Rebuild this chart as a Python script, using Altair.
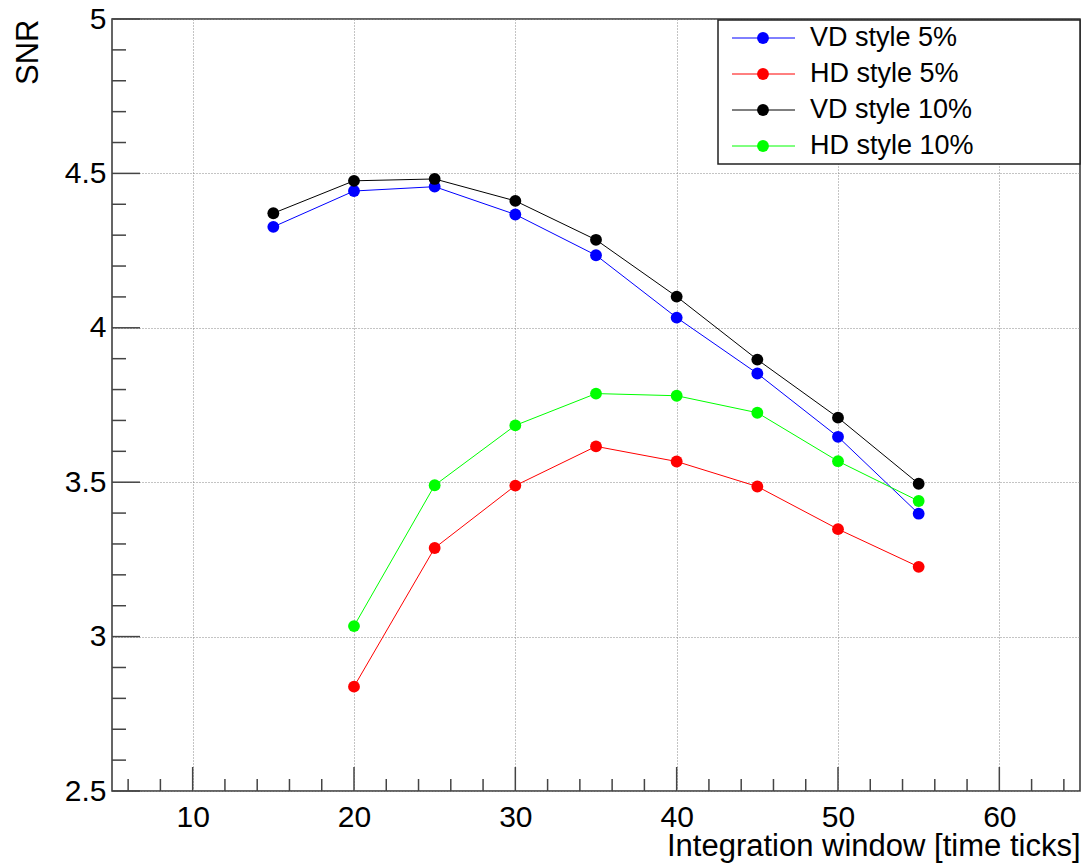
import altair as alt
import pandas as pd

# ---- data ----
series_names = ["VD style 5%", "HD style 5%", "VD style 10%", "HD style 10%"]
series_colors = ["#0000ff", "#ff0000", "#000000", "#00ff00"]

x_vd = [15, 20, 25, 30, 35, 40, 45, 50, 55]
x_hd = [20, 25, 30, 35, 40, 45, 50, 55]

vd5 = [4.327, 4.443, 4.457, 4.367, 4.235, 4.033, 3.852, 3.647, 3.398]
hd5 = [2.838, 3.287, 3.489, 3.616, 3.567, 3.486, 3.348, 3.226]
vd10 = [4.371, 4.476, 4.482, 4.411, 4.285, 4.101, 3.897, 3.709, 3.495]
hd10 = [3.034, 3.490, 3.684, 3.787, 3.780, 3.725, 3.568, 3.439]

x_major = [10, 20, 30, 40, 50, 60]
x_minor = [6, 8, 12, 14, 16, 18, 22, 24, 26, 28, 32, 34, 36, 38,
           42, 44, 46, 48, 52, 54, 56, 58, 62, 64]
y_major = [2.5, 3.0, 3.5, 4.0, 4.5, 5.0]
y_minor = [2.6, 2.7, 2.8, 2.9, 3.1, 3.2, 3.3, 3.4, 3.6, 3.7, 3.8, 3.9,
           4.1, 4.2, 4.3, 4.4, 4.6, 4.7, 4.8, 4.9]

# ---- build tables ----
rows = []
for name, xs, ys in [(series_names[0], x_vd, vd5), (series_names[1], x_hd, hd5),
                     (series_names[2], x_vd, vd10), (series_names[3], x_hd, hd10)]:
    for a, b in zip(xs, ys):
        rows.append({"x": a, "snr": b, "series": name})
df = pd.DataFrame(rows)

W, H = 968, 772
FONT = "Liberation Sans"

xscale = alt.Scale(domain=[5, 65], nice=False, zero=False)
yscale = alt.Scale(domain=[2.5, 5], nice=False, zero=False)
cscale = alt.Scale(domain=series_names, range=series_colors)

XTITLE = "Integration window [time ticks]"
YTITLE = "SNR"

xaxis = alt.Axis(values=x_major, grid=True, gridDash=[1, 2], gridColor="#888",
                 gridWidth=1, ticks=False, domain=False, labelFontSize=30,
                 labelFont=FONT, labelColor="#000", labelPadding=11,
                 title=XTITLE, titleFont=FONT,
                 titleFontSize=31, titleFontWeight="normal", titleColor="#000",
                 titleAlign="right", titleAnchor="end", titleX=W, titleY=64,
                 titleBaseline="alphabetic")
yaxis = alt.Axis(values=y_major, format="~g", grid=True, gridDash=[1, 2],
                 gridColor="#888", gridWidth=1, ticks=False, domain=False,
                 labelFontSize=30, labelFont=FONT, labelColor="#000",
                 labelPadding=6, title=YTITLE, titleFont=FONT, titleFontSize=31,
                 titleFontWeight="normal", titleColor="#000", titleAngle=-90,
                 titleAlign="right", titleBaseline="middle", titleX=-84,
                 titleY=0)

base = alt.Chart(df)
lines = base.mark_line(strokeWidth=1).encode(
    x=alt.X("x:Q", scale=xscale, axis=xaxis, title=XTITLE),
    y=alt.Y("snr:Q", scale=yscale, axis=yaxis, title=YTITLE),
    color=alt.Color("series:N", scale=cscale, legend=None),
    detail="series:N",
)
points = base.mark_circle(size=140, opacity=1).encode(
    x=alt.X("x:Q", scale=xscale, axis=xaxis, title=XTITLE),
    y=alt.Y("snr:Q", scale=yscale, axis=yaxis, title=YTITLE),
    color=alt.Color("series:N", scale=cscale, legend=None),
)

# inward-pointing ticks (ROOT style)
tick_col = "#444"
xmaj = alt.Chart(pd.DataFrame({"v": x_major})).mark_rule(color=tick_col, strokeWidth=1.5).encode(
    x=alt.X("v:Q", scale=xscale, axis=xaxis, title=XTITLE), y=alt.value(H), y2=alt.value(H - 24))
xmin = alt.Chart(pd.DataFrame({"v": x_minor})).mark_rule(color=tick_col, strokeWidth=1.5).encode(
    x=alt.X("v:Q", scale=xscale, axis=xaxis, title=XTITLE), y=alt.value(H), y2=alt.value(H - 12))
ymaj = alt.Chart(pd.DataFrame({"v": y_major})).mark_rule(color=tick_col, strokeWidth=1.5).encode(
    y=alt.Y("v:Q", scale=yscale, axis=yaxis, title=YTITLE), x=alt.value(0), x2=alt.value(28))
ymin = alt.Chart(pd.DataFrame({"v": y_minor})).mark_rule(color=tick_col, strokeWidth=1.5).encode(
    y=alt.Y("v:Q", scale=yscale, axis=yaxis, title=YTITLE), x=alt.value(0), x2=alt.value(14))

# legend box drawn by hand (ROOT TLegend look)
leg = pd.DataFrame({"series": series_names})
leg["ly"] = [19 + 36 * i for i in range(len(series_names))]
legbox = alt.Chart(pd.DataFrame({"a": [0]})).mark_rect(
    fill="white", stroke="#222", strokeWidth=1.5).encode(
    x=alt.value(606), x2=alt.value(W), y=alt.value(1), y2=alt.value(145))
leglines = alt.Chart(leg).mark_rule(strokeWidth=1).encode(
    x=alt.value(620), x2=alt.value(683), y=alt.Y("ly:Q", scale=None),
    color=alt.Color("series:N", scale=cscale, legend=None))
legpts = alt.Chart(leg).mark_circle(size=140, opacity=1).encode(
    x=alt.value(651), y=alt.Y("ly:Q", scale=None),
    color=alt.Color("series:N", scale=cscale, legend=None))
legtext = alt.Chart(leg).mark_text(align="left", baseline="middle", font=FONT,
                                   fontSize=27, color="#000").encode(
    x=alt.value(698), y=alt.Y("ly:Q", scale=None), text="series:N")

chart = alt.layer(lines, points, xmaj, xmin, ymaj, ymin,
                  legbox, leglines, legpts, legtext).properties(
    width=W, height=H,
    autosize=alt.AutoSizeParams(type="none"),
    padding={"left": 112, "top": 19, "right": 6, "bottom": 72},
    background="white",
).configure_view(stroke="#333", strokeWidth=1.5)

chart.save("out.html", embed_options={"renderer": "svg", "actions": False})
